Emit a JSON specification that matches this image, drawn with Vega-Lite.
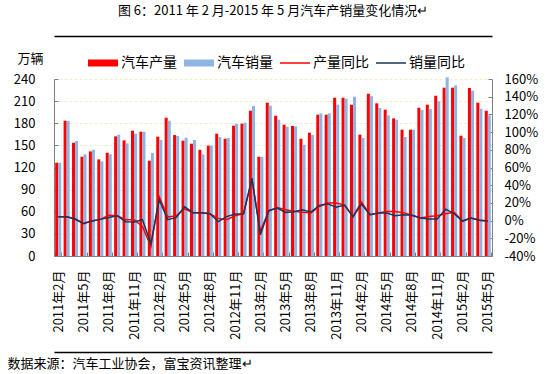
{
  "$schema": "https://vega.github.io/schema/vega-lite/v6.json",
  "width": 438,
  "height": 177,
  "autosize": "none",
  "padding": {"left": 54, "top": 79, "right": 59, "bottom": 118},
  "background": "white",
  "title": {
    "text": "图 6：2011 年 2 月-2015 年 5 月汽车产销量变化情况↵",
    "anchor": "middle",
    "frame": "group",
    "fontSize": 13,
    "fontWeight": "normal",
    "font": "Noto Sans CJK SC",
    "color": "#000000",
    "offset": 15,
    "dy": -3
  },
  "config": {
    "font": "Noto Sans CJK SC",
    "view": {"stroke": null},
    "axis": {"labelFont": "Noto Sans CJK SC", "labelColor": "#000000", "titleFont": "Noto Sans CJK SC", "titleFontWeight": "normal", "titleColor": "#000000", "labelOverlap": false, "labelFlush": false},
    "axisRight": {"labelOverlap": false}
  },
  "data": {
    "values": [
      {"month": "2011年2月", "汽车产量": 126.5, "汽车销量": 126.5, "产量同比": 4.4, "销量同比": 4.4},
      {"month": "2011年3月", "汽车产量": 183.5, "汽车销量": 183.2, "产量同比": 4.4, "销量同比": 4.4},
      {"month": "2011年4月", "汽车产量": 153.6, "汽车销量": 155.9, "产量同比": 1.8, "销量同比": 1.8},
      {"month": "2011年5月", "汽车产量": 134.6, "汽车销量": 137.8, "产量同比": -3.0, "销量同比": -3.5},
      {"month": "2011年6月", "汽车产量": 141.8, "汽车销量": 144.0, "产量同比": -0.5, "销量同比": -0.5},
      {"month": "2011年7月", "汽车产量": 131.0, "汽车销量": 128.3, "产量同比": 1.4, "销量同比": 1.4},
      {"month": "2011年8月", "汽车产量": 140.0, "汽车销量": 137.8, "产量同比": 6.0, "销量同比": 3.5},
      {"month": "2011年9月", "汽车产量": 162.2, "汽车销量": 164.5, "产量同比": 5.5, "销量同比": 5.5},
      {"month": "2011年10月", "汽车产量": 156.8, "汽车销量": 152.7, "产量同比": 1.0, "销量同比": -1.2},
      {"month": "2011年11月", "汽车产量": 169.9, "汽车销量": 165.8, "产量同比": 1.0, "销量同比": -1.6},
      {"month": "2011年12月", "汽车产量": 168.5, "汽车销量": 168.5, "产量同比": -6.5, "销量同比": 1.0},
      {"month": "2012年1月", "汽车产量": 129.2, "汽车销量": 139.6, "产量同比": -29.0, "销量同比": -26.0},
      {"month": "2012年2月", "汽车产量": 161.8, "汽车销量": 157.3, "产量同比": 26.7, "销量同比": 23.6},
      {"month": "2012年3月", "汽车产量": 187.5, "汽车销量": 183.5, "产量同比": 4.0, "销量同比": 1.0},
      {"month": "2012年4月", "汽车产量": 164.0, "汽车销量": 162.7, "产量同比": 5.5, "销量同比": 3.3},
      {"month": "2012年5月", "汽车产量": 156.3, "汽车销量": 160.4, "产量同比": 13.4, "销量同比": 15.7},
      {"month": "2012年6月", "汽车产量": 152.3, "汽车销量": 157.3, "产量同比": 8.9, "销量同比": 8.9},
      {"month": "2012年7月", "汽车产量": 144.0, "汽车销量": 137.8, "产量同比": 8.9, "销量同比": 8.9},
      {"month": "2012年8月", "汽车产量": 149.6, "汽车销量": 149.6, "产量同比": 7.8, "销量同比": 7.8},
      {"month": "2012年9月", "汽车产量": 165.8, "汽车销量": 161.3, "产量同比": 2.5, "销量同比": -1.2},
      {"month": "2012年10月", "汽车产量": 159.0, "汽车销量": 160.0, "产量同比": 1.0, "销量同比": 4.5},
      {"month": "2012年11月", "汽车产量": 176.7, "汽车销量": 179.0, "产量同比": 5.5, "销量同比": 7.4},
      {"month": "2012年12月", "汽车产量": 179.4, "汽车销量": 180.7, "产量同比": 7.8, "销量同比": 7.8},
      {"month": "2013年1月", "汽车产量": 197.0, "汽车销量": 203.4, "产量同比": 46.0, "销量同比": 48.0},
      {"month": "2013年2月", "汽车产量": 134.6, "汽车销量": 134.6, "产量同比": -12.0, "销量同比": -16.0},
      {"month": "2013年3月", "汽车产量": 207.9, "汽车销量": 203.8, "产量同比": 11.0, "销量同比": 11.2},
      {"month": "2013年4月", "汽车产量": 190.2, "汽车销量": 184.8, "产量同比": 14.8, "销量同比": 14.2},
      {"month": "2013年5月", "汽车产量": 178.0, "汽车销量": 175.3, "产量同比": 12.3, "销量同比": 9.3},
      {"month": "2013年6月", "汽车产量": 176.3, "汽车销量": 175.8, "产量同比": 10.5, "销量同比": 10.0},
      {"month": "2013年7月", "汽车产量": 159.0, "汽车销量": 150.9, "产量同比": 9.3, "销量同比": 12.3},
      {"month": "2013年8月", "汽车产量": 167.2, "汽车销量": 164.0, "产量同比": 8.5, "销量同比": 9.6},
      {"month": "2013年9月", "汽车产量": 191.6, "汽车销量": 193.4, "产量同比": 16.0, "销量同比": 17.2},
      {"month": "2013年10月", "汽车产量": 191.6, "汽车销量": 193.4, "产量同比": 19.8, "销量同比": 19.0},
      {"month": "2013年11月", "汽车产量": 214.6, "汽车销量": 205.2, "产量同比": 19.8, "销量同比": 15.0},
      {"month": "2013年12月", "汽车产量": 214.6, "汽车销量": 213.3, "产量同比": 17.5, "销量同比": 17.5},
      {"month": "2014年1月", "汽车产量": 205.2, "汽车销量": 216.0, "产量同比": 4.4, "销量同比": 4.4},
      {"month": "2014年2月", "汽车产量": 164.5, "汽车销量": 160.0, "产量同比": 21.0, "销量同比": 18.6},
      {"month": "2014年3月", "汽车产量": 220.0, "汽车销量": 216.8, "产量同比": 6.7, "销量同比": 6.7},
      {"month": "2014年4月", "汽车产量": 207.0, "汽车销量": 200.7, "产量同比": 8.6, "销量同比": 8.6},
      {"month": "2014年5月", "汽车产量": 198.4, "汽车销量": 190.7, "产量同比": 10.4, "销量同比": 8.6},
      {"month": "2014年6月", "汽车产量": 186.6, "汽车销量": 184.8, "产量同比": 10.4, "销量同比": 5.5},
      {"month": "2014年7月", "汽车产量": 171.3, "汽车销量": 161.3, "产量同比": 9.0, "销量同比": 6.7},
      {"month": "2014年8月", "汽车产量": 171.3, "汽车销量": 171.3, "产量同比": 6.0, "销量同比": 6.0},
      {"month": "2014年9月", "汽车产量": 201.0, "汽车销量": 198.0, "产量同比": 2.9, "销量同比": 2.9},
      {"month": "2014年10月", "汽车产量": 205.2, "汽车销量": 199.3, "产量同比": 4.7, "销量同比": 1.8},
      {"month": "2014年11月", "汽车产量": 217.3, "汽车销量": 209.7, "产量同比": 5.5, "销量同比": 1.8},
      {"month": "2014年12月", "汽车产量": 228.2, "汽车销量": 242.2, "产量同比": 7.8, "销量同比": 13.0},
      {"month": "2015年1月", "汽车产量": 228.2, "汽车销量": 231.3, "产量同比": 9.3, "销量同比": 7.8},
      {"month": "2015年2月", "汽车产量": 163.1, "汽车销量": 160.0, "产量同比": -0.5, "销量同比": -0.5},
      {"month": "2015年3月", "汽车产量": 227.8, "汽车销量": 224.1, "产量同比": 3.0, "销量同比": 3.0},
      {"month": "2015年4月", "汽车产量": 207.9, "汽车销量": 199.7, "产量同比": 0.4, "销量同比": 0.4},
      {"month": "2015年5月", "汽车产量": 197.0, "汽车销量": 190.7, "产量同比": -0.5, "销量同比": -0.5}
    ]
  },
  "layer": [
    {
      "transform": [{"fold": ["汽车产量", "汽车销量"], "as": ["series", "value"]}],
      "mark": {"type": "bar"},
      "encoding": {
        "x": {
          "field": "month", "type": "nominal", "sort": null,
          "scale": {"paddingInner": 0.28, "paddingOuter": 0.14},
          "axis": {
            "orient": "bottom",
            "values": ["2011年2月","2011年5月","2011年8月","2011年11月","2012年2月","2012年5月","2012年8月","2012年11月","2013年2月","2013年5月","2013年8月","2013年11月","2014年2月","2014年5月","2014年8月","2014年11月","2015年2月","2015年5月"],
            "tickBand": "extent",
            "tickSize": -4,
            "tickColor": "#808080",
            "domainColor": "#808080",
            "labelAngle": -90,
            "labelAlign": "right",
            "labelBaseline": "middle",
            "labelFontSize": 13,
            "labelPadding": 18,
            "title": "数据来源：汽车工业协会，富宝资讯整理↵",
            "titleFontSize": 13,
            "titleAnchor": "start",
            "titleAlign": "left",
            "titleBaseline": "middle",
            "titleX": -47,
            "titleY": 107
          }
        },
        "xOffset": {"field": "series", "type": "nominal", "sort": ["汽车产量", "汽车销量"], "scale": {"paddingInner": 0, "paddingOuter": 0}},
        "y": {
          "field": "value", "type": "quantitative",
          "scale": {"domain": [0, 240], "nice": false},
          "axis": {
            "values": [0, 30, 60, 90, 120, 150, 180, 210, 240],
            "tickSize": -4,
            "tickColor": "#808080",
            "domainColor": "#808080",
            "labelFontSize": 13,
            "labelPadding": 23,
            "grid": true,
            "gridColor": "#EEEEC4",
            "gridDash": [3, 2],
            "title": "万辆",
            "titleFontSize": 13,
            "titleAngle": 0,
            "titleAlign": "center",
            "titleBaseline": "middle",
            "titleX": -24,
            "titleY": -21
          }
        },
        "color": {
          "field": "series", "type": "nominal",
          "scale": {"domain": ["汽车产量", "汽车销量", "产量同比", "销量同比"], "range": ["#FF0000", "#8DB4E2", "#FF0000", "#17375E"]},
          "legend": {
            "orient": "none",
            "legendX": 34,
            "legendY": -31,
            "direction": "horizontal",
            "columns": 4,
            "title": null,
            "padding": 0,
            "symbolSize": 900,
            "symbolStrokeWidth": 0,
            "labelFontSize": 14,
            "labelFont": "Noto Sans CJK SC",
            "labelColor": "#000000",
            "labelOffset": 3,
            "columnPadding": 7,
            "encode": {
              "symbols": {
                "update": {
                  "shape": {"signal": "(datum.value === '产量同比' || datum.value === '销量同比') ? 'M-1,-0.05H1V0.05H-1Z' : 'M-1,-0.233H1V0.233H-1Z'"},
                  "fill": {"scale": "color", "field": "value"},
                  "strokeWidth": {"value": 0},
                  "opacity": {"value": 1}
                }
              }
            }
          }
        }
      }
    },
    {
      "layer": [
        {
          "mark": {"type": "line", "strokeWidth": 1.5},
          "encoding": {
            "x": {
              "field": "month", "type": "nominal", "sort": null,
              "axis": {"orient": "top", "offset": 43, "domainColor": "#000000", "domainWidth": 1.5, "labels": false, "ticks": false, "grid": false, "title": null}
            },
            "y": {
              "field": "产量同比", "type": "quantitative",
              "scale": {"domain": [-40, 160], "nice": false},
              "axis": {
                "orient": "right",
                "values": [-40, -20, 0, 20, 40, 60, 80, 100, 120, 140, 160],
                "labelExpr": "datum.value + '%'",
                "tickSize": -4,
                "tickColor": "#808080",
                "domainColor": "#808080",
                "labelFontSize": 13,
                "labelPadding": 16,
                "labelOverlap": false,
                "grid": false,
                "title": null
              }
            },
            "color": {"datum": "产量同比"}
          }
        },
        {
          "mark": {"type": "line", "strokeWidth": 1.5},
          "encoding": {
            "x": {
              "field": "month", "type": "nominal", "sort": null,
              "axis": {"orient": "bottom", "offset": 96, "domainColor": "#000000", "domainWidth": 1.5, "labels": false, "ticks": false, "grid": false, "title": null}
            },
            "y": {
              "field": "销量同比", "type": "quantitative",
              "axis": {
                "orient": "right",
                "values": [-40, -20, 0, 20, 40, 60, 80, 100, 120, 140, 160],
                "labelExpr": "datum.value + '%'",
                "tickSize": -4,
                "tickColor": "#808080",
                "domainColor": "#808080",
                "labelFontSize": 13,
                "labelPadding": 16,
                "labelOverlap": false,
                "grid": false,
                "title": null
              }
            },
            "color": {"datum": "销量同比"}
          }
        }
      ],
      "resolve": {"axis": {"x": "independent", "y": "shared"}, "scale": {"y": "shared"}}
    }
  ],
  "resolve": {"scale": {"y": "independent"}, "axis": {"x": "independent"}}
}
